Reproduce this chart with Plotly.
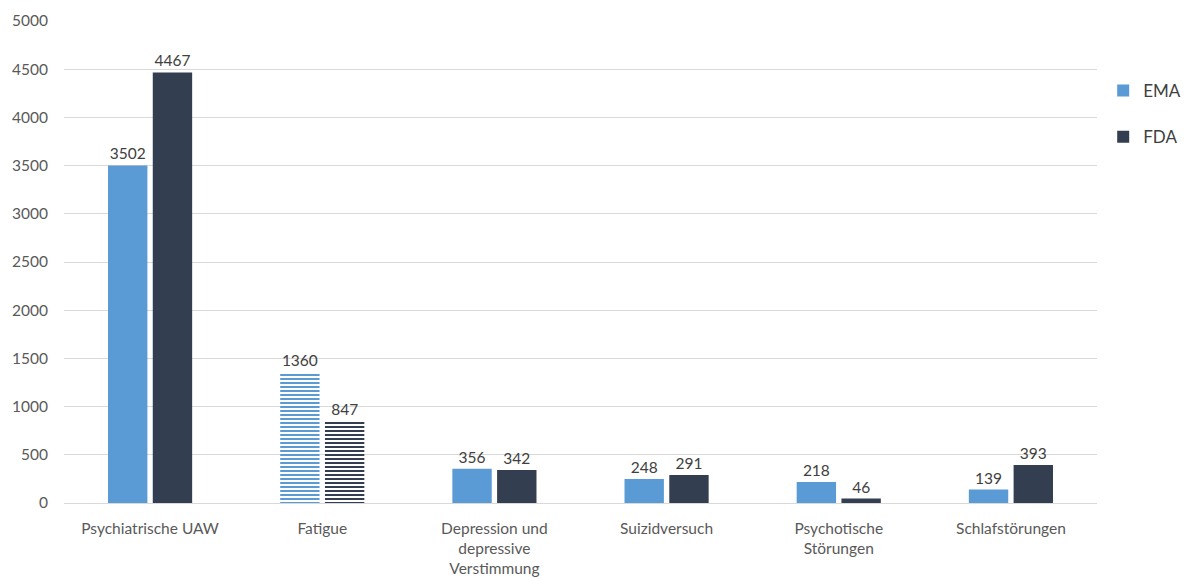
import plotly.graph_objects as go

categories = [
    "Psychiatrische UAW",
    "Fatigue",
    "Depression und<br>depressive<br>Verstimmung",
    "Suizidversuch",
    "Psychotische<br>Störungen",
    "Schlafstörungen",
]
ema_values = [3502, 1360, 356, 248, 218, 139]
fda_values = [4467, 847, 342, 291, 46, 393]
# Fatigue bars are drawn hatched with horizontal lines
hatch = ["", "-", "", "", "", ""]

EMA_COLOR = "#5B9BD5"
FDA_COLOR = "#333F50"
FONT = "Lato"

fig = go.Figure()
for name, vals, color in [("EMA", ema_values, EMA_COLOR), ("FDA", fda_values, FDA_COLOR)]:
    fig.add_trace(go.Bar(
        name=name,
        legendgroup=name,
        x=categories,
        y=vals,
        text=[str(v) for v in vals],
        textposition="outside",
        cliponaxis=False,
        textfont=dict(family=FONT, size=15.5, color="#404040"),
        marker=dict(
            color=color,
            line=dict(width=0),
            pattern=dict(shape=hatch, fgcolor=color, bgcolor="white",
                         size=4, solidity=0.5, fillmode="replace"),
        ),
    ))

fig.update_layout(
    width=1186,
    height=579,
    margin=dict(l=64, r=89, t=21, b=76, autoexpand=False),
    paper_bgcolor="white",
    plot_bgcolor="white",
    barmode="group",
    bargap=0.48,
    bargroupgap=0.12,
    font=dict(family=FONT, size=15.5, color="#595959"),
    showlegend=True,
    legend=dict(
        x=1.006, y=0.892, xanchor="left", yanchor="top",
        font=dict(family=FONT, size=17, color="#404040"),
        traceorder="grouped",
        tracegroupgap=21, itemwidth=30,
        bgcolor="rgba(0,0,0,0)",
    ),
)
fig.update_yaxes(
    range=[0, 5000], dtick=500, showgrid=True, gridcolor="#D9D9D9", gridwidth=1,
    zeroline=True, zerolinecolor="#D9D9D9", zerolinewidth=1,
    tickfont=dict(family=FONT, size=15.5, color="#595959"),
    ticks="", showline=False, ticklabelstandoff=15,
)
fig.update_xaxes(
    showgrid=False, showline=False, ticks="",
    tickfont=dict(family=FONT, size=15.5, color="#595959"),
    ticklabelstandoff=14,
)

fig.write_html("out.html")
